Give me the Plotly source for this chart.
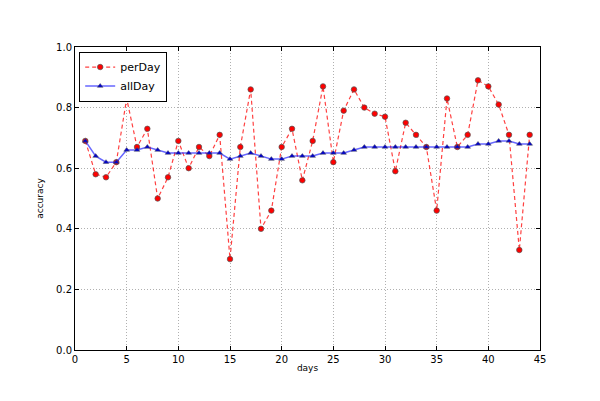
import plotly.graph_objects as go

# data
days = list(range(1, 45))
per_day = [0.69, 0.58, 0.57, 0.62, 0.83, 0.67, 0.73, 0.50, 0.57, 0.69,
           0.60, 0.67, 0.64, 0.71, 0.30, 0.67, 0.86, 0.40, 0.46, 0.67,
           0.73, 0.56, 0.69, 0.87, 0.62, 0.79, 0.86, 0.80, 0.78, 0.77,
           0.59, 0.75, 0.71, 0.67, 0.46, 0.83, 0.67, 0.71, 0.89, 0.87,
           0.81, 0.71, 0.33, 0.71]
all_day = [0.69, 0.64, 0.62, 0.62, 0.66, 0.66, 0.67, 0.66, 0.65, 0.65,
           0.65, 0.65, 0.65, 0.65, 0.63, 0.64, 0.65, 0.64, 0.63, 0.63,
           0.64, 0.64, 0.64, 0.65, 0.65, 0.65, 0.66, 0.67, 0.67, 0.67,
           0.67, 0.67, 0.67, 0.67, 0.67, 0.67, 0.67, 0.67, 0.68, 0.68,
           0.69, 0.69, 0.68, 0.68]
x_ticks = [0, 5, 10, 15, 20, 25, 30, 35, 40, 45]
y_ticks = [0.0, 0.2, 0.4, 0.6, 0.8, 1.0]

fig = go.Figure()
fig.add_trace(go.Scatter(x=days, y=per_day, mode='lines+markers', name='perDay',
                         line=dict(color='rgba(255,0,0,0.75)', width=1.2, dash='4px,3px'),
                         marker=dict(symbol='circle', size=5.5, color='red',
                                     line=dict(color='#555', width=0.7))))
fig.add_trace(go.Scatter(x=days, y=all_day, mode='lines+markers', name='allDay',
                         line=dict(color='rgba(0,0,255,0.6)', width=1.5),
                         marker=dict(symbol='triangle-up', size=5, color='#0000cc',
                                     line=dict(color='#555', width=0.5))))

axis_common = dict(showline=True, linecolor='black', linewidth=1, mirror='ticks',
                   ticks='inside', ticklen=4, tickcolor='black',
                   showgrid=True, gridcolor='#b0b0b0', griddash='1px,2px', gridwidth=1,
                   zeroline=False, tickfont=dict(size=10, color='black'))

fig.update_xaxes(range=[0, 45], tickvals=x_ticks,
                 title=dict(text='days', font=dict(size=9), standoff=0),
                 **axis_common)
fig.update_yaxes(range=[0, 1.0], tickvals=y_ticks, tickformat='.1f',
                 title=dict(text='accuracy', font=dict(size=9), standoff=10),
                 **axis_common)

# margins allow for the page's 8px body margin
fig.update_layout(
    width=600, height=401,
    margin=dict(l=67, r=68, t=39, b=59),
    paper_bgcolor='white', plot_bgcolor='white',
    font=dict(family='DejaVu Sans', color='black'),
    legend=dict(x=0.009, y=0.985, xanchor='left', yanchor='top',
                bgcolor='white', bordercolor='black', borderwidth=1,
                font=dict(size=11), tracegroupgap=0, itemwidth=30),
    showlegend=True,
)

fig.write_html("out.html")
